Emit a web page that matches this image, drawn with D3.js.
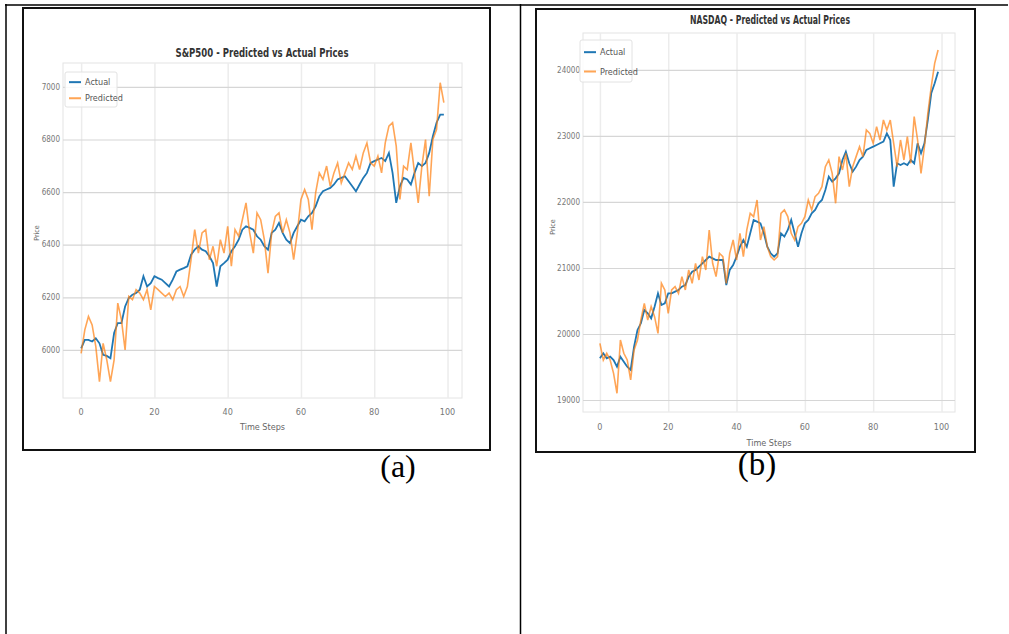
<!DOCTYPE html>
<html>
<head>
<meta charset="utf-8">
<script src="https://cdn.jsdelivr.net/npm/d3@7"></script>
<style>
  body { margin: 0; background: #fff; }
  svg { display: block; }
</style>
</head>
<body>
<div id="fig"></div>
<script>
// time steps 0..99
const steps = d3.range(100)

// S&P500 series
const spActual = [6006,6038,6038,6032,6044,6025,5981,5977,5968,6064,6102,6102,6165,6197,6210,6216,6229,6280,6241,6254,
  6280,6273,6267,6254,6241,6267,6298,6305,6311,6318,6362,6381,6394,6381,6375,6356,6330,6241,6318,6330,
  6343,6375,6394,6419,6457,6470,6464,6457,6432,6419,6394,6381,6445,6457,6483,6445,6419,6406,6445,6470,
  6495,6489,6508,6521,6546,6584,6603,6610,6616,6629,6648,6654,6660,6641,6622,6603,6629,6654,6673,6711,
  6718,6724,6730,6718,6749,6673,6559,6622,6654,6648,6629,6673,6711,6699,6711,6749,6813,6864,6895,6895]
const spPredicted = [5987,6076,6127,6095,6013,5879,6025,5962,5879,5962,6178,6114,6000,6203,6191,6229,6216,6191,6229,6152,
  6241,6229,6216,6203,6216,6191,6229,6241,6203,6241,6343,6457,6368,6445,6457,6343,6394,6318,6419,6368,
  6470,6318,6457,6432,6495,6559,6445,6368,6521,6495,6419,6292,6445,6508,6521,6445,6495,6445,6343,6445,
  6572,6610,6572,6457,6597,6673,6648,6699,6622,6673,6711,6635,6673,6711,6686,6737,6686,6749,6787,6711,
  6699,6737,6673,6787,6851,6864,6775,6572,6699,6686,6787,6673,6559,6699,6800,6584,6800,6838,7016,6940]

// NASDAQ series
const ndActual = [19631,19707,19631,19657,19606,19505,19657,19581,19505,19455,19808,20061,20162,20364,20313,20237,20414,20616,20439,20465,
  20616,20616,20641,20667,20717,20742,20869,20944,20970,21020,21071,21121,21172,21146,21121,21121,21121,20742,20970,21045,
  21172,21323,21424,21323,21525,21727,21702,21677,21525,21323,21222,21172,21222,21525,21475,21576,21727,21525,21323,21525,
  21677,21727,21828,21879,21980,22030,22182,22384,22308,22358,22434,22636,22762,22586,22459,22535,22636,22687,22788,22813,
  22838,22863,22889,22914,23040,22939,22232,22586,22560,22586,22560,22636,22586,22889,22737,22889,23242,23646,23798,23974]
const ndPredicted = [19859,19606,19707,19606,19404,19101,19909,19707,19606,19303,19758,19909,20212,20465,20212,20414,20263,20010,20768,20667,
  20313,20667,20717,20616,20869,20667,20970,20768,21071,20818,21172,20970,21576,21071,20869,21222,21172,20768,21222,21424,
  21121,21525,21172,21576,21828,21778,22030,21424,21626,21323,21172,21121,21172,21828,21879,21778,21525,21424,21626,21677,
  21778,22030,21879,22081,22131,22232,22535,22636,22434,21980,22687,22485,22737,22232,22535,22687,22838,22687,23091,23040,
  22889,23141,22939,23242,23091,23242,22889,22535,22939,22636,22990,22586,23293,22939,22434,22838,23343,23747,24101,24303]

const xTicks = [0, 20, 40, 60, 80, 100]
const spTicks = [6000, 6200, 6400, 6600, 6800, 7000]
const ndTicks = [19000, 20000, 21000, 22000, 23000, 24000]
const seriesNames = ['Actual', 'Predicted']
const panelLabels = ['(a)', '(b)']

const W = 1009, H = 634
const colors = {Actual: '#1f77b4', Predicted: '#ff7f0e'}
const narrow = '"DejaVu Sans Condensed", "Liberation Sans Narrow", "DejaVu Sans", sans-serif'

const svg = d3.select('#fig').append('svg')
    .attr('width', W)
    .attr('height', H)

// table borders round the two figures
svg.append('line').attr('x1', 5).attr('x2', 1008).attr('y1', 5).attr('y2', 5)
    .attr('stroke', '#000').attr('stroke-width', 1.5)
svg.append('line').attr('x1', 6).attr('x2', 6).attr('y1', 4).attr('y2', H)
    .attr('stroke', '#000').attr('stroke-width', 1.5)
svg.append('line').attr('x1', 520.5).attr('x2', 520.5).attr('y1', 4).attr('y2', H)
    .attr('stroke', '#000').attr('stroke-width', 1.5)

const panels = [
  {title: 'S&P500 - Predicted vs Actual Prices', actual: spActual, predicted: spPredicted, ticks: spTicks,
   yDomain: [5817, 7091], box: [23, 8, 490, 450], plot: [63, 63, 462, 398], titleX: 262, titleY: 57, titleW: 173,
   ylabX: 39, ylabY: 233, tickY: 415, xlabY: 430, legend: [65, 72, 52, 35], lab: [398, 477], labSize: 32},
  {title: 'NASDAQ - Predicted vs Actual Prices', actual: ndActual, predicted: ndPredicted, ticks: ndTicks,
   yDomain: [18818, 24560], box: [536, 9, 975, 452], plot: [583, 33, 955, 412], titleX: 770, titleY: 24, titleW: 160,
   ylabX: 555, ylabY: 227, tickY: 430, xlabY: 446, legend: [580, 40, 52, 42], lab: [757, 475], labSize: 33}
]

panels.forEach((p, k) => drawPanel(p, panelLabels[k]))

function drawPanel(p, label) {
  const [bx0, by0, bx1, by1] = p.box
  const [px0, py0, px1, py1] = p.plot

  const x = d3.scaleLinear().domain([-4.95, 103.95]).range([px0, px1])
  const y = d3.scaleLinear().domain(p.yDomain).range([py1, py0])

  const g = svg.append('g')

  // frame of the pasted picture
  g.append('rect')
      .attr('x', bx0).attr('y', by0)
      .attr('width', bx1 - bx0).attr('height', by1 - by0)
      .attr('fill', '#fff')
      .attr('stroke', '#111')
      .attr('stroke-width', 2)

  // axes background / spines
  g.append('rect')
      .attr('x', px0).attr('y', py0)
      .attr('width', px1 - px0).attr('height', py1 - py0)
      .attr('fill', '#fff')
      .attr('stroke', '#e4e4e4')

  // vertical grid
  g.append('g')
      .attr('transform', `translate(0, ${py1})`)
      .call(d3.axisBottom(x).tickValues(xTicks).tickSize(-(py1 - py0)).tickFormat(''))
      .call(g => g.select('.domain').remove())
      .call(g => g.selectAll('.tick line').attr('stroke', '#ececec').attr('stroke-width', 1.5))

  // horizontal grid
  g.append('g')
      .attr('transform', `translate(${px0}, 0)`)
      .call(d3.axisLeft(y).tickValues(p.ticks).tickSize(-(px1 - px0)).tickFormat(''))
      .call(g => g.select('.domain').remove())
      .call(g => g.selectAll('.tick line').attr('stroke', '#d6d6d6').attr('stroke-width', 1.2))

  // tick labels
  g.append('g')
    .selectAll('text')
    .data(xTicks)
    .join('text')
      .attr('x', d => x(d))
      .attr('y', p.tickY)
      .attr('text-anchor', 'middle')
      .attr('font-family', narrow)
      .attr('font-size', 9)
      .attr('fill', '#777')
      .text(d => d)

  g.append('g')
    .selectAll('text')
    .data(p.ticks)
    .join('text')
      .attr('x', px0 - 3)
      .attr('y', d => y(d))
      .attr('dy', '0.35em')
      .attr('text-anchor', 'end')
      .attr('font-family', narrow)
      .attr('font-size', 8)
      .attr('fill', '#777')
      .text(d => d)

  // axis labels
  g.append('text')
      .attr('x', (px0 + px1) / 2)
      .attr('y', p.xlabY)
      .attr('text-anchor', 'middle')
      .attr('font-family', narrow)
      .attr('font-size', 9)
      .attr('fill', '#666')
      .text('Time Steps')

  g.append('text')
      .attr('transform', `translate(${p.ylabX}, ${p.ylabY}) rotate(-90)`)
      .attr('text-anchor', 'middle')
      .attr('font-family', narrow)
      .attr('font-size', 7)
      .attr('fill', '#666')
      .text('Price')

  // title
  g.append('text')
      .attr('x', p.titleX)
      .attr('y', p.titleY)
      .attr('text-anchor', 'middle')
      .attr('font-family', narrow)
      .attr('font-weight', 'bold')
      .attr('font-size', 12)
      .attr('fill', '#333')
      .attr('textLength', p.titleW)
      .attr('lengthAdjust', 'spacingAndGlyphs')
      .text(p.title)

  // lines
  const line = d3.line()
      .x((d, i) => x(steps[i]))
      .y(d => y(d))

  g.append('path')
      .attr('d', line(p.actual))
      .attr('fill', 'none')
      .attr('stroke', colors.Actual)
      .attr('stroke-width', 1.8)

  g.append('path')
      .attr('d', line(p.predicted))
      .attr('fill', 'none')
      .attr('stroke', colors.Predicted)
      .attr('stroke-width', 1.6)
      .attr('opacity', 0.7)

  // legend
  const [lx, ly, lw, lh] = p.legend
  const leg = g.append('g').attr('transform', `translate(${lx}, ${ly})`)
  leg.append('rect')
      .attr('width', lw).attr('height', lh)
      .attr('rx', 2)
      .attr('fill', '#fff')
      .attr('fill-opacity', 0.85)
      .attr('stroke', '#e2e2e2')
  const rows = leg.selectAll('g.row')
    .data(seriesNames)
    .join('g')
      .attr('class', 'row')
      .attr('transform', (d, i) => `translate(0, ${lh * 0.29 + i * lh * 0.46})`)
  rows.append('line')
      .attr('x1', 4).attr('x2', 16)
      .attr('stroke', d => colors[d])
      .attr('stroke-width', 2)
      .attr('opacity', d => d === 'Predicted' ? 0.7 : 1)
  rows.append('text')
      .attr('x', 20)
      .attr('dy', '0.35em')
      .attr('font-family', narrow)
      .attr('font-size', 9)
      .attr('fill', '#555')
      .text(d => d)

  // panel caption below the picture
  svg.append('text')
      .attr('x', p.lab[0])
      .attr('y', p.lab[1])
      .attr('text-anchor', 'middle')
      .attr('font-family', '"Liberation Serif", "Times New Roman", serif')
      .attr('font-size', p.labSize)
      .attr('fill', '#000')
      .text(label)
}
</script>
</body>
</html>
